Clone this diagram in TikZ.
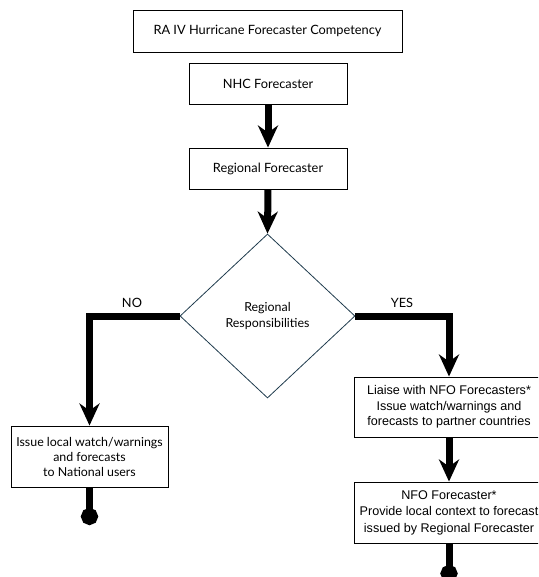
\documentclass[tikz,border=0pt]{standalone}
\usepackage{fontspec}
\setmainfont{Lato}
\newfontfamily\arialf{Liberation Sans}
\usetikzlibrary{shapes.geometric,arrows.meta}
\definecolor{diaedge}{HTML}{1F3B4D}
\tikzset{
  box/.style={draw=black, line width=0.9pt, fill=white, inner sep=0pt, align=center, font=\fontsize{12.8}{15}\selectfont},
  rbox/.style={box, font=\arialf\fontsize{12.6}{15.6}\selectfont},
  conn/.style={line width=7pt, line join=miter, -{Stealth[length=22pt,width=20pt,inset=7pt]}},
  endconn/.style={line width=7pt, line join=miter, -{Circle[length=17pt]}},
  lbl/.style={font=\fontsize{12.8}{14}\selectfont, inner sep=0pt}
}
\begin{document}
\begin{tikzpicture}[x=1pt,y=-1pt]
\useasboundingbox (0,0) rectangle (538,577);
\clip (0,0) rectangle (538,577);
\node[box, minimum width=269pt, minimum height=42pt] (top) at (267.5,31) {RA IV Hurricane Forecaster Competency};
\node[box, minimum width=158pt, minimum height=41pt] (nhc) at (268,83.5) {NHC Forecaster};
\node[box, minimum width=158pt, minimum height=41pt] (reg) at (268,168.5) {Regional Forecaster};
\node[diamond, draw=diaedge, line width=0.8pt, minimum width=175pt, minimum height=164pt, inner sep=0pt, align=center, font=\fontsize{12.4}{15.5}\selectfont] (dia) at (267.5,316) {Regional\\Responsibilities};
\node[box, minimum width=157pt, minimum height=61pt, font=\fontsize{12.4}{15}\selectfont] (lbox) at (89.5,456.5) {Issue local watch/warnings\\and forecasts\\to National users};
\node[rbox, minimum width=190pt, minimum height=60pt] (r1) at (449,407) {Liaise with NFO Forecasters*\\Issue watch/warnings and\\forecasts to partner countries};
\node[rbox, minimum width=190pt, minimum height=61pt, font=\arialf\fontsize{12.6}{16.5}\selectfont] (r2) at (449,512.5) {NFO Forecaster*\\Provide local context to forecast\\issued by Regional Forecaster};
\coordinate (lend) at (89.5,525);
\coordinate (rend) at (449,582);
\draw[conn] (nhc.south) -- (reg.north);
\draw[conn] (reg.south) -- (dia.north);
\draw[conn] (dia.west) -| (lbox.north);
\draw[conn] (dia.east) -| (r1.north);
\draw[conn] (r1.south) -- (r2.north);
\draw[endconn] (lbox.south) -- (lend);
\draw[endconn] (r2.south) -- (rend);
\node[lbl] (no) at (132,303) {NO};
\node[lbl] (yes) at (402,303) {YES};
\end{tikzpicture}
\end{document}
